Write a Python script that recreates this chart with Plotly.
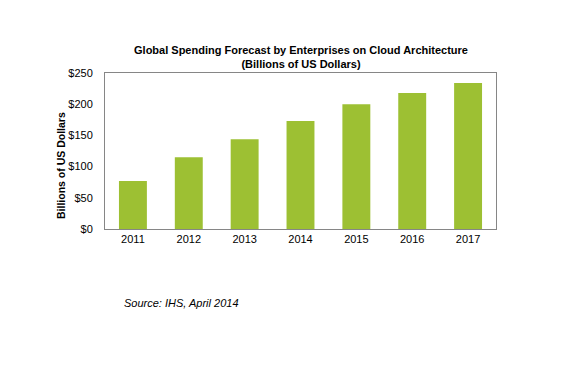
import plotly.graph_objects as go

years = ["2011", "2012", "2013", "2014", "2015", "2016", "2017"]
spending = [77, 115, 144, 173, 200, 218, 234]
y_ticks = [0, 50, 100, 150, 200, 250]
y_tick_labels = ["$0", "$50", "$100", "$150", "$200", "$250"]

# The page body adds an 8px margin, so the figure is sized and placed to compensate.
fig = go.Figure(go.Bar(x=years, y=spending, marker=dict(color="#9DC033", line=dict(width=0))))

fig.update_layout(
    width=569, height=360,
    margin=dict(l=97, r=81, t=65, b=139),
    paper_bgcolor="white", plot_bgcolor="white",
    bargap=0.5,
    showlegend=False,
    font=dict(family="Arial, Liberation Sans, sans-serif", size=11, color="#000000"),
    title=dict(
        text="<b>Global Spending Forecast by Enterprises on Cloud Architecture<br>(Billions of US Dollars)</b>",
        x=(301 - 8) / 569, xanchor="center", y=1 - (54 - 8) / 360, yanchor="middle",
        font=dict(size=11, color="#000000"),
    ),
)
fig.update_xaxes(
    showline=True, linecolor="#868686", linewidth=1, mirror=True,
    showgrid=False, ticks="", tickfont=dict(size=11),
)
fig.update_yaxes(
    range=[0, 250], tickvals=y_ticks, ticktext=y_tick_labels,
    showline=True, linecolor="#868686", linewidth=1, mirror=True,
    showgrid=False, zeroline=False, ticks="", ticklabelstandoff=9,
    tickfont=dict(size=11),
)
fig.add_annotation(
    text="<b>Billions of US Dollars</b>", textangle=-90,
    xref="paper", yref="paper", x=-(105 - 61) / 391, y=(229 - 166) / 156,
    xanchor="center", yanchor="middle", showarrow=False,
    font=dict(size=10.5),
)
fig.add_annotation(
    text="<i>Source: IHS, April 2014</i>",
    xref="paper", yref="paper", x=(122 - 105) / 391, y=-(303 - 229) / 156,
    xanchor="left", yanchor="middle", showarrow=False,
    font=dict(size=11),
)
# small black mark at the top right corner of the original image
fig.add_annotation(
    text="", xref="paper", yref="paper",
    x=(574 - 105) / 391, y=(229 - 21) / 156,
    xanchor="center", yanchor="middle", showarrow=False,
    width=2, height=6, bgcolor="black", borderpad=0, borderwidth=0,
)

fig.write_html("out.html")
